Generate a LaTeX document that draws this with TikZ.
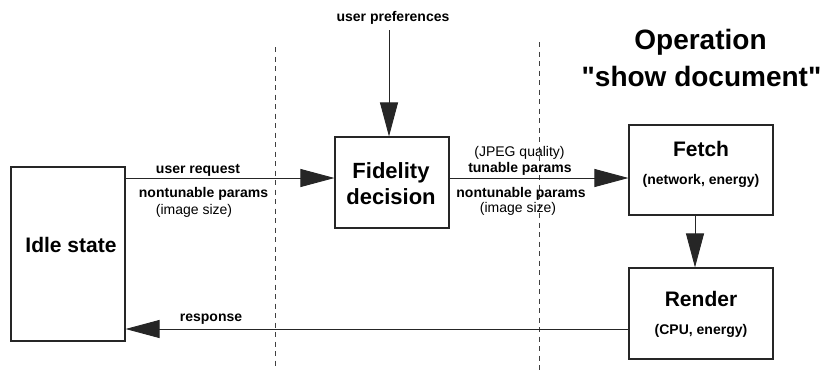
\documentclass[tikz,border=0pt]{standalone}
\usepackage{fontspec}
\setmainfont{Liberation Sans}
\newfontfamily\plainsans{Liberation Sans}
\usetikzlibrary{arrows.meta}
\begin{document}
\begin{tikzpicture}[x=1pt,y=-1pt,
 box/.style={draw=black!85, line width=1.1pt, inner sep=0pt},
 arr/.style={-{Triangle[length=34pt,width=18pt]}, line width=0.9pt, draw=black!85},
 sep/.style={dash pattern=on 5pt off 4.5pt, line width=0.8pt, draw=black!75},
 lbl/.style={font=\fontsize{14}{16}\selectfont\bfseries, anchor=base, inner sep=0pt},
 rlbl/.style={font=\fontsize{14}{16}\selectfont, anchor=base, inner sep=0pt},
 big/.style={font=\fontsize{21}{24}\selectfont\bfseries, anchor=base, inner sep=0pt},
 title/.style={font=\plainsans\fontsize{28}{32}\selectfont\bfseries, anchor=base, inner sep=0pt},
]
\useasboundingbox (0,0) rectangle (824,372);

% boxes
\node[box, minimum width=114pt, minimum height=174pt] (idle) at (68,254) {};
\node[box, minimum width=114pt, minimum height=91pt] (fid) at (392,182.5) {};
\node[box, minimum width=144pt, minimum height=90pt] (fetch) at (701,170) {};
\node[box, minimum width=144pt, minimum height=91pt] (render) at (701,313.5) {};

% box texts
\node[big] (tidle) at (71,252) {Idle state};
\node[big, font=\fontsize{22}{24}\selectfont\bfseries] (tfid1) at (391,178) {Fidelity};
\node[big, font=\fontsize{22}{24}\selectfont\bfseries] (tfid2) at (391,204) {decision};
\node[big] (tfetch) at (701,156) {Fetch};
\node[lbl] (tfetch2) at (701,184) {(network, energy)};
\node[big] (trender) at (701,306) {Render};
\node[lbl] (trender2) at (701,334) {(CPU, energy)};

% title
\node[title] (op1) at (700.5,49) {Operation};
\node[title] (op2) at (701.5,86) {"show document"};

% dashed separators
\coordinate (d1t) at (275,47);
\coordinate (d1b) at (275,368);
\coordinate (d2t) at (539,42);
\coordinate (d2b) at (539,372);
\draw[sep] (d1t) -- (d1b);
\draw[sep] (d2t) -- (d2b);

% labels
\node[lbl] (up) at (393,21) {user preferences};
\node[lbl] (ureq) at (198,173) {user request};
\node[lbl] (nt1) at (203.5,197.5) {nontunable params};
\node[rlbl] (is1) at (194,214) {(image size)};
\node[lbl] (resp) at (211,321) {response};
\node[rlbl] (jq) at (519.5,156) {(JPEG quality)};
\node[lbl] (tp) at (520,172) {tunable params};
\node[lbl] (nt2) at (521,197) {nontunable params};
\node[rlbl] (is2) at (518,212) {(image size)};

% connectors
\coordinate (upt) at (389,30);
\coordinate (ra) at (0,178);
\coordinate (fr) at (695,0);
\coordinate (rs) at (0,329);
\draw[arr] (upt) -- (fid.north -| upt);
\draw[arr] (idle.east |- ra) -- (fid.west |- ra);
\draw[arr] (fid.east |- ra) -- (fetch.west |- ra);
\draw[arr] (fetch.south -| fr) -- (render.north -| fr);
\draw[arr] (render.west |- rs) -- (idle.east |- rs);
\end{tikzpicture}
\end{document}
